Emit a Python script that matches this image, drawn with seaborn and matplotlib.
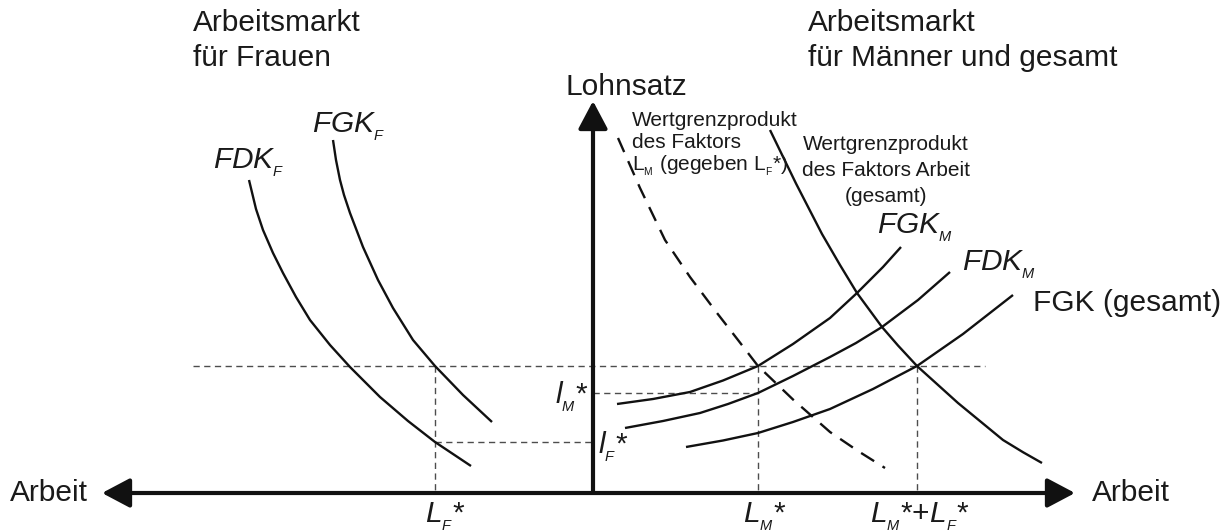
import matplotlib
matplotlib.use("Agg")
import matplotlib.pyplot as plt
import numpy as np
import pandas as pd
import seaborn as sns

# ---------------- data (labour to the right = men/total, to the left = women) ---------
# origin = intersection of the axes; units = arbitrary labour / wage units
fdk_f_x = [-344, -337, -330, -320, -310, -297, -283, -263, -243, -213, -185, -158, -122]
fdk_f_y = [313, 284, 263, 240, 220, 196, 173, 148, 126, 96, 72, 51, 27]

fgk_f_x = [-260, -257, -253, -249, -243, -230, -215, -200, -180, -158, -130, -101]
fgk_f_y = [353, 333, 313, 298, 280, 246, 213, 185, 153, 127, 98, 71]

fgk_m_x = [24, 60, 97, 130, 165, 200, 237, 264, 290, 308]
fgk_m_y = [89, 94, 101, 112.5, 127, 149, 175, 200, 226, 246]

fdk_m_x = [32, 70, 107, 135, 165, 200, 237, 263, 289, 325, 357]
fdk_m_y = [65, 72, 80, 89, 100, 117, 136, 150, 166, 193, 221]

fgk_ges_x = [93, 130, 165, 200, 237, 280, 324, 370, 420]
fgk_ges_y = [46, 52.5, 60, 71, 84, 104, 127, 159, 198]

wgp_m_x = [25, 47, 72, 97, 124, 145, 165, 200, 237, 265, 292]
wgp_m_y = [355, 305, 253, 216, 180, 153, 127, 93.5, 61, 42, 25]

wgp_ges_x = [177, 203, 229, 247, 264, 289, 305, 324, 365, 410, 430, 449]
wgp_ges_y = [363, 309.5, 259, 228, 200, 166, 147.5, 127, 90, 53, 40.8, 30]

# equilibrium values
w_eq = 127          # common wage level
l_m_star = 100      # marginal factor cost men (l_M*)
l_f_star = 51       # marginal factor cost women (l_F*)
L_f_star = -158     # women's employment (plotted to the left)
L_m_star = 165      # men's employment
L_tot_star = 324    # total employment

# ---------------- figure ----------------
sns.set_theme(style="white")
plt.rcParams["font.family"] = ["Liberation Sans", "DejaVu Sans"]
plt.rcParams["mathtext.fontset"] = "custom"
plt.rcParams["mathtext.rm"] = "Liberation Sans"
plt.rcParams["mathtext.it"] = "Liberation Sans:italic"
plt.rcParams["mathtext.bf"] = "Liberation Sans:bold"

fig = plt.figure(figsize=(12.32, 5.32), dpi=100)
ax = fig.add_axes([0, 0, 1, 1])
ax.set_xlim(-593, 639)
ax.set_ylim(-39, 493)
ax.axis("off")

# guide lines (dashed, grey)
gkw = dict(color="#4d4d4d", lw=1.0, linestyle=(0, (4.5, 3.2)), zorder=1)
ax.plot([-400, 392], [w_eq, w_eq], **gkw)
ax.plot([L_f_star, L_f_star], [w_eq, 2], **gkw)
ax.plot([L_f_star, 0], [l_f_star, l_f_star], **gkw)
ax.plot([0, L_m_star], [l_m_star, l_m_star], **gkw)
ax.plot([L_m_star, L_m_star], [w_eq, 2], **gkw)
ax.plot([L_tot_star, L_tot_star], [w_eq, 2], **gkw)

# solid curves
curves = {
    "FDK_F": (fdk_f_x, fdk_f_y),
    "FGK_F": (fgk_f_x, fgk_f_y),
    "FGK_M": (fgk_m_x, fgk_m_y),
    "FDK_M": (fdk_m_x, fdk_m_y),
    "FGK_ges": (fgk_ges_x, fgk_ges_y),
    "WGP_ges": (wgp_ges_x, wgp_ges_y),
}
rows = []
for name, (xs, ys) in curves.items():
    for i, (xx, yy) in enumerate(zip(xs, ys)):
        rows.append({"curve": name, "order": i, "x": xx, "y": yy})
df = pd.DataFrame(rows)
sns.lineplot(data=df, x="x", y="y", units="curve", estimator=None, sort=False,
             color="#111111", lw=1.7, ax=ax, legend=False, zorder=3,
             solid_joinstyle="round", solid_capstyle="butt")

# dashed marginal value product curve of L_M
dfm = pd.DataFrame({"x": wgp_m_x, "y": wgp_m_y})
sns.lineplot(data=dfm, x="x", y="y", sort=False, estimator=None, color="#111111",
             lw=1.7, linestyle=(0, (6.5, 4.2)), ax=ax, legend=False, zorder=3)

# axes arrows
ax.annotate("", xy=(-491, 0), xytext=(482, 0),
            arrowprops=dict(arrowstyle="<|-|>,head_length=0.85,head_width=0.45",
                            mutation_scale=20, lw=3.0, color="#111111",
                            shrinkA=0, shrinkB=0), zorder=5)
ax.annotate("", xy=(0, 392), xytext=(0, 0),
            arrowprops=dict(arrowstyle="-|>,head_length=0.85,head_width=0.45",
                            mutation_scale=20, lw=3.0, color="#111111",
                            shrinkA=0, shrinkB=0), zorder=5)

tc = "#1a1a1a"
big = 21.5
# headings
ax.text(-400, 470, "Arbeitsmarkt", fontsize=big, ha="left", va="center", color=tc)
ax.text(-400, 435, "für Frauen", fontsize=big, ha="left", va="center", color=tc)
ax.text(215, 470, "Arbeitsmarkt", fontsize=big, ha="left", va="center", color=tc)
ax.text(215, 435, "für Männer und gesamt", fontsize=big, ha="left", va="center", color=tc)
ax.text(-28, 406, "Lohnsatz", fontsize=big, ha="left", va="center", color=tc)
ax.text(-583, 0, "Arbeit", fontsize=big, ha="left", va="center", color=tc)
ax.text(499, 0, "Arbeit", fontsize=big, ha="left", va="center", color=tc)
ax.text(440, 190, "FGK (gesamt)", fontsize=big, ha="left", va="center", color=tc)

# curve labels
ax.text(-281, 366, r"$FGK_{_F}$", fontsize=big, ha="left", va="center", color=tc)
ax.text(-380, 330, r"$FDK_{_F}$", fontsize=big, ha="left", va="center", color=tc)
ax.text(284, 265, r"$FGK_{_M}$", fontsize=big, ha="left", va="center", color=tc)
ax.text(369, 228, r"$FDK_{_M}$", fontsize=big, ha="left", va="center", color=tc)

small = 15
ax.text(39, 373, "Wertgrenzprodukt", fontsize=small, ha="left", va="center", color=tc)
ax.text(39, 350, "des Faktors", fontsize=small, ha="left", va="center", color=tc)
ax.text(39, 327, r"$\mathrm{L_{_M}}$ (gegeben $\mathrm{L_{_F}}$*)", fontsize=small,
        ha="left", va="center", color=tc)
ax.text(293, 348, "Wertgrenzprodukt", fontsize=small, ha="center", va="center", color=tc)
ax.text(293, 322, "des Faktors Arbeit", fontsize=small, ha="center", va="center", color=tc)
ax.text(293, 296, "(gesamt)", fontsize=small, ha="center", va="center", color=tc)

# equilibrium labels
ax.text(-168, -24, r"$L_{_F}$*", fontsize=big, ha="left", va="center", color=tc)
ax.text(150, -24, r"$L_{_M}$*", fontsize=big, ha="left", va="center", color=tc)
ax.text(277, -24, r"$L_{_M}$*+$L_{_F}$*", fontsize=big, ha="left", va="center", color=tc)
ax.text(-38, 96, r"$l_{_M}$*", fontsize=big, ha="left", va="center", color=tc)
ax.text(5, 46, r"$l_{_F}$*", fontsize=big, ha="left", va="center", color=tc)

fig.savefig("out.png", dpi=100, facecolor="white")
